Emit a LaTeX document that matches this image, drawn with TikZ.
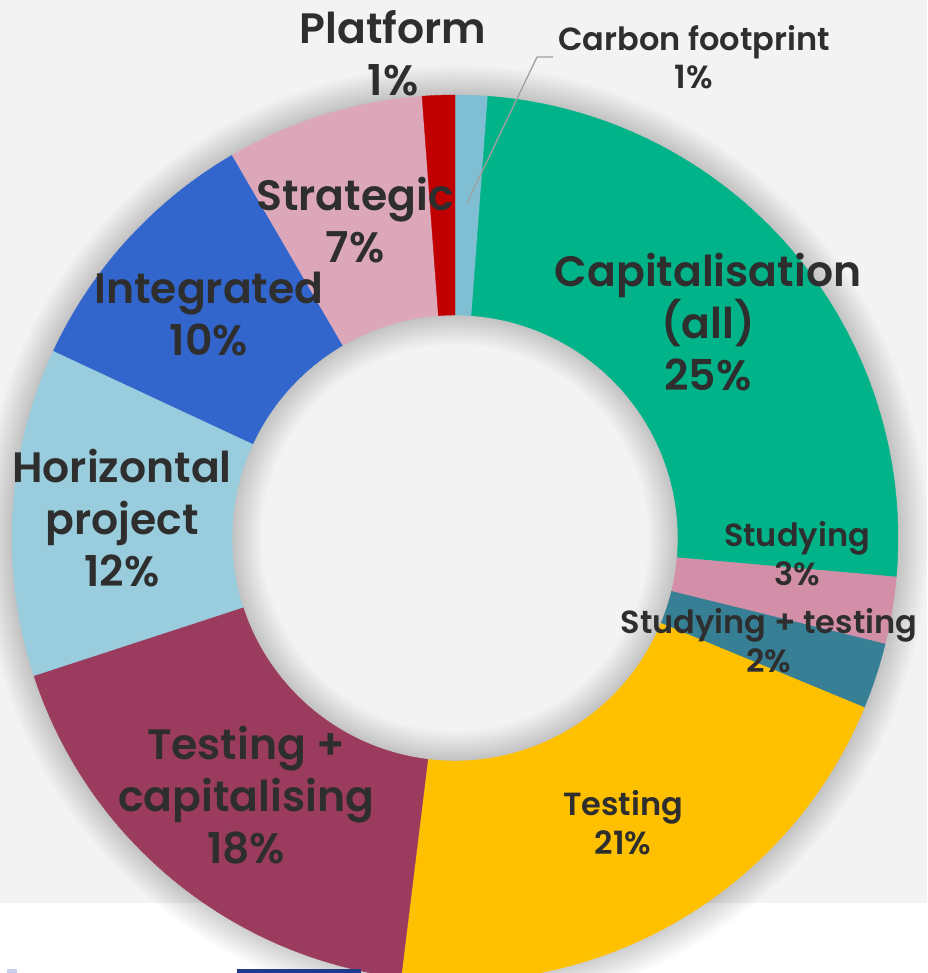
\documentclass[tikz,border=0pt]{standalone}
\usepackage{fontspec}
\setmainfont{Poppins}[UprightFont=* Medium, BoldFont=* SemiBold]
\usetikzlibrary{calc}
\definecolor{bgc}{HTML}{F3F3F3}
\definecolor{txt}{HTML}{2E2E2E}
\definecolor{cCarbon}{HTML}{80BFD3}
\definecolor{cCap}{HTML}{00B388}
\definecolor{cStud}{HTML}{D48FA8}
\definecolor{cStudT}{HTML}{367F94}
\definecolor{cTest}{HTML}{FFC000}
\definecolor{cTestCap}{HTML}{9B3B5E}
\definecolor{cHor}{HTML}{99CCDC}
\definecolor{cInt}{HTML}{3366CC}
\definecolor{cStrat}{HTML}{DDA7BA}
\definecolor{cPlat}{HTML}{C00000}
\definecolor{cLav}{HTML}{C8D0F0}
\definecolor{cNavy}{HTML}{1F3C8C}
\definecolor{cLead}{HTML}{A0A0A0}
\newcommand\donutslice[3]{\fill[#3, draw=#3, line width=0.4pt] ($(C)+(#1:443)$) arc[start angle=#1,end angle=#2,radius=443] -- ($(C)+(#2:223)$) arc[start angle=#2,end angle=#1,radius=223] -- cycle;}
\begin{document}
\begin{tikzpicture}[x=1pt,y=-1pt,
  lbl/.style={text=txt, align=center, inner sep=0pt},
  big/.style={lbl, font=\fontsize{42.5}{52}\selectfont\bfseries},
  small/.style={lbl, font=\fontsize{32}{39}\selectfont\bfseries},
  leader/.style={draw=cLead, line width=1.3pt}]
\useasboundingbox (0,0) rectangle (927,973);
\fill[bgc] (0,0) rectangle (927,903);
\fill[white] (0,903) rectangle (927,973);
\coordinate (C) at (455,538);
\foreach \i in {1,...,24}
  \fill[black,opacity=0.006,even odd rule] (C) circle[radius={443+\i*1.25}] (C) circle[radius={223-\i*1.25}];
\donutslice{-90}{-85.74}{cCarbon}
\donutslice{-85.74}{5.05}{cCap}
\donutslice{5.05}{13.85}{cStud}
\donutslice{13.85}{22.5}{cStudT}
\donutslice{22.5}{97}{cTest}
\donutslice{97}{161.9}{cTestCap}
\donutslice{161.9}{205}{cHor}
\donutslice{205}{239.8}{cInt}
\donutslice{239.8}{265.74}{cStrat}
\donutslice{265.74}{270}{cPlat}
\fill[cLav] (7,969) rectangle (17,973);
\fill[cNavy] (237,969) rectangle (361,973);
\node[big] (plat) at (393,53) {Platform\\1\%};
\node[small, inner xsep=5pt, font=\fontsize{32}{38}\selectfont\bfseries] (carbon) at (694,57) {Carbon footprint\\1\%};
\node[big] (cap) at (708,322) {Capitalisation\\(all)\\25\%};
\node[small] (stud) at (797,554) {Studying\\3\%};
\node[small] (studt) at (769,641) {Studying + testing\\2\%};
\node[small] (test) at (623,823) {Testing\\21\%};
\node[big] (testcap) at (246,795) {Testing +\\capitalising\\18\%};
\node[big] (hor) at (122,518) {Horizontal\\project\\12\%};
\node[big] (integ) at (209,314) {Integrated\\10\%};
\node[big] (strat) at (355,220) {Strategic\\7\%};
\coordinate (cfk) at (537,57);
\coordinate (cft) at (467,203);
\draw[leader] (carbon.west) -- (cfk) -- (cft);
\end{tikzpicture}
\end{document}
